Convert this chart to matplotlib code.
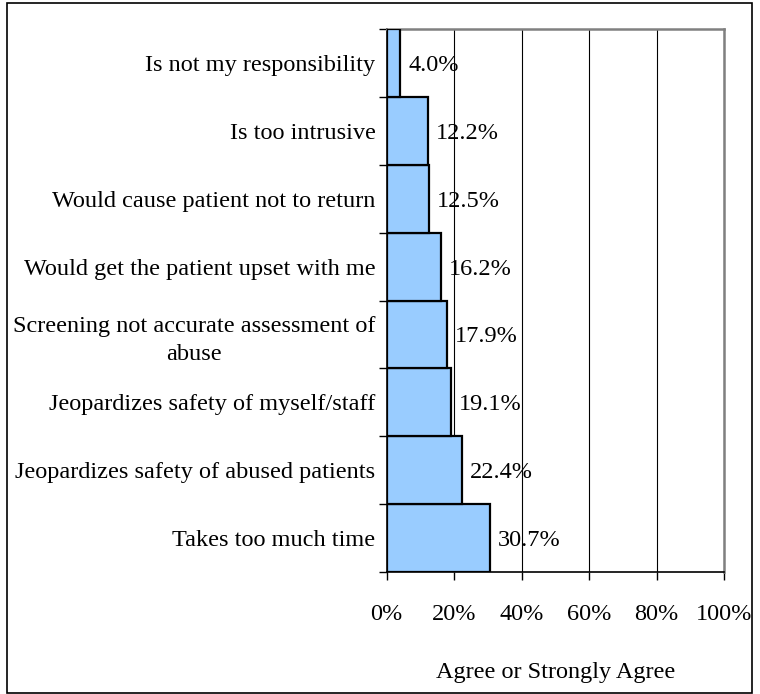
import matplotlib.pyplot as plt
from matplotlib.patches import Rectangle

categories = [
    'Takes too much time',
    'Jeopardizes safety of abused patients',
    'Jeopardizes safety of myself/staff',
    'Screening not accurate assessment of\nabuse',
    'Would get the patient upset with me',
    'Would cause patient not to return',
    'Is too intrusive',
    'Is not my responsibility',
]
values = [30.7, 22.4, 19.1, 17.9, 16.2, 12.5, 12.2, 4.0]
xticks = [0, 20, 40, 60, 80, 100]
xtick_labels = ['0%', '20%', '40%', '60%', '80%', '100%']

plt.rcParams['font.family'] = ['Liberation Serif', 'DejaVu Serif']
fs = 17.5

fig = plt.figure(figsize=(7.6, 6.94), dpi=100)
ax = fig.add_axes([386.5 / 760, 1 - 572 / 694, (724 - 386.5) / 760, (572 - 29) / 694])

pos = list(range(len(categories)))
ax.barh(pos, values, height=1.0, color='#99CCFF', edgecolor='black', linewidth=1.6, zorder=3)

# value labels
for p, v in zip(pos, values):
    ax.text(v + 2.4, p, '%.1f%%' % v, va='center_baseline', ha='left', fontsize=fs, zorder=4)

ax.set_xlim(0, 100)
ax.set_ylim(-0.5, len(categories) - 0.5)

ax.set_xticks(xticks)
ax.set_xticklabels(xtick_labels, fontsize=fs)
ax.tick_params(axis='x', direction='out', length=6, width=1, pad=17)
ax.xaxis.grid(True, color='black', linewidth=0.8, zorder=0)

# category labels at bar centres, tick marks at boundaries
ax.set_yticks(pos)
ax.set_yticklabels(categories, fontsize=fs, multialignment='center', linespacing=1.45)
ax.tick_params(axis='y', which='major', length=0, pad=8)
ax.set_yticks([p - 0.5 for p in range(len(categories) + 1)], minor=True)
ax.tick_params(axis='y', which='minor', direction='out', length=6, width=1)

ax.set_xlabel('Agree or Strongly Agree', fontsize=fs, labelpad=27)

for s in ['left', 'bottom']:
    ax.spines[s].set_color('black')
    ax.spines[s].set_linewidth(1.2)
for s in ['top', 'right']:
    ax.spines[s].set_color('#808080')
    ax.spines[s].set_linewidth(1.8)

# outer frame
fig.patches.append(Rectangle((7 / 760, 1 / 694), (752 - 7) / 760, (691 - 1) / 694,
                             transform=fig.transFigure, fill=False,
                             edgecolor='black', linewidth=1.2))

fig.savefig('out.png', dpi=100)
